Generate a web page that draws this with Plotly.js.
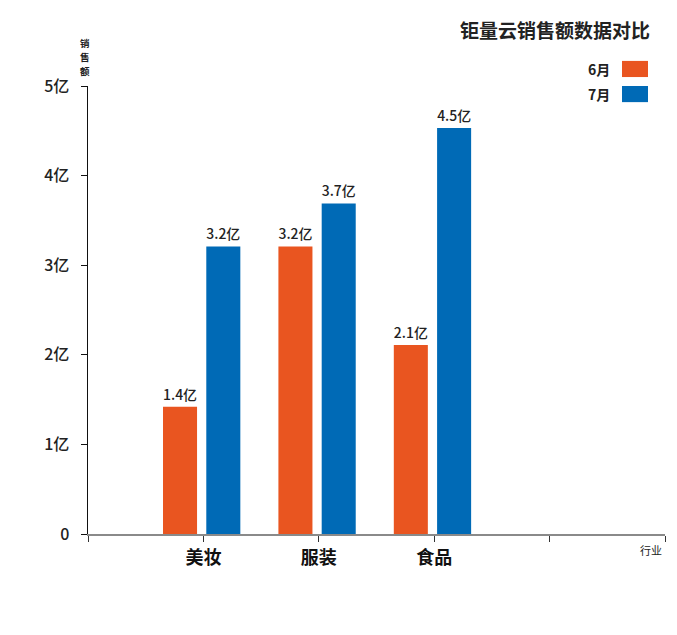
<!DOCTYPE html>
<html>
<head>
<meta charset="utf-8">
<script src="https://cdn.plot.ly/plotly-3.0.1.min.js"></script>
<style>
  html, body { margin: 0; padding: 0; background: #fff; }
  #chart { width: 677px; height: 635px; }
</style>
</head>
<body>
<div id="chart"></div>
<script>
// industries (x) and monthly sales in 亿
var categories = ['美妆', '服装', '食品'];
var category_pos = [0, 1, 2];
var june_values = [1.42, 3.21, 2.11];
var july_values = [3.21, 3.69, 4.53];
var series_names = ['6月', '7月'];
var series_colours = ['#E95520', '#006AB6'];

var y_tickvals = [0, 1, 2, 3, 4, 5];
var y_ticktext = ['0', '1亿', '2亿', '3亿', '4亿', '5亿'];
var y_title_chars = ['销', '售', '额'];

var font_family = '"Noto Sans CJK SC", "Noto Sans", sans-serif';

var june = {
	x: category_pos,
	y: june_values,
	type: 'bar',
	name: series_names[0],
	marker: { color: series_colours[0] },
	width: 0.295,
	offset: -0.35,
	texttemplate: '%{y:.1f}亿',
	textposition: 'outside',
	textfont: { family: font_family, size: 14, color: '#222', weight: 500 },
	cliponaxis: false,
	hoverinfo: 'skip'
};

var july = {
	x: category_pos,
	y: july_values,
	type: 'bar',
	name: series_names[1],
	marker: { color: series_colours[1] },
	width: 0.295,
	offset: 0.025,
	texttemplate: '%{y:.1f}亿',
	textposition: 'outside',
	textfont: { family: font_family, size: 14, color: '#222', weight: 500 },
	cliponaxis: false,
	hoverinfo: 'skip'
};

// vertical axis title, one character per line
var annotations = y_title_chars.map(function (ch, i) {
	return {
		text: ch,
		xref: 'paper', yref: 'paper',
		x: -0.005, y: 1.096 - i * 0.0315,
		xanchor: 'center', yanchor: 'middle',
		showarrow: false,
		font: { family: font_family, size: 9.5, color: '#222', weight: 700 }
	};
});

annotations.push(
	{
		text: '行业',
		xref: 'paper', yref: 'paper',
		x: 0.975, y: -0.036,
		xanchor: 'center', yanchor: 'middle',
		showarrow: false,
		font: { family: font_family, size: 11, color: '#222' }
	},
	{
		text: series_names[0],
		xref: 'paper', yref: 'paper',
		x: 0.908, y: 1.038,
		xanchor: 'right', yanchor: 'middle',
		showarrow: false,
		font: { family: font_family, size: 14, color: '#222', weight: 700 }
	},
	{
		text: series_names[1],
		xref: 'paper', yref: 'paper',
		x: 0.908, y: 0.982,
		xanchor: 'right', yanchor: 'middle',
		showarrow: false,
		font: { family: font_family, size: 14, color: '#222', weight: 700 }
	}
);

var layout = {
	width: 677,
	height: 635,
	margin: { l: 88, r: 12, t: 86, b: 101 },
	paper_bgcolor: '#fff',
	plot_bgcolor: '#fff',
	showlegend: false,
	font: { family: font_family, color: '#222' },
	title: {
		text: '钜量云销售额数据对比',
		x: 0.96,
		xanchor: 'right',
		y: 0.95,
		yanchor: 'middle',
		font: { family: font_family, size: 19, color: '#222', weight: 700 }
	},
	xaxis: {
		type: 'linear',
		range: [-1, 4],
		tickmode: 'array',
		tickvals: [-1, 0, 1, 2, 3, 4],
		ticktext: [''].concat(categories, ['', '']),
		ticks: 'outside',
		ticklen: 6,
		tickcolor: '#333',
		tickwidth: 1,
		showline: true,
		linecolor: '#8a8a8a',
		linewidth: 2,
		showgrid: false,
		zeroline: false,
		fixedrange: true,
		tickfont: { family: font_family, size: 18, color: '#111', weight: 700 }
	},
	yaxis: {
		range: [0, 5],
		tickmode: 'array',
		tickvals: y_tickvals,
		ticktext: y_ticktext,
		ticks: 'outside',
		ticklen: 6,
		tickcolor: '#111',
		tickwidth: 1,
		ticklabelstandoff: 8,
		showline: true,
		linecolor: '#111',
		linewidth: 1.5,
		showgrid: false,
		zeroline: false,
		fixedrange: true,
		tickfont: { family: font_family, size: 16, color: '#222', weight: 500 }
	},
	annotations: annotations,
	// legend swatches
	shapes: [
		{
			type: 'rect', xref: 'paper', yref: 'paper',
			x0: 0.9255, x1: 0.9705, y0: 1.020, y1: 1.056,
			fillcolor: series_colours[0], line: { width: 0 }
		},
		{
			type: 'rect', xref: 'paper', yref: 'paper',
			x0: 0.9255, x1: 0.9705, y0: 0.964, y1: 1.0,
			fillcolor: series_colours[1], line: { width: 0 }
		}
	]
};

var config = { staticPlot: true, displayModeBar: false };

Plotly.newPlot('chart', [june, july], layout, config);
</script>
</body>
</html>
